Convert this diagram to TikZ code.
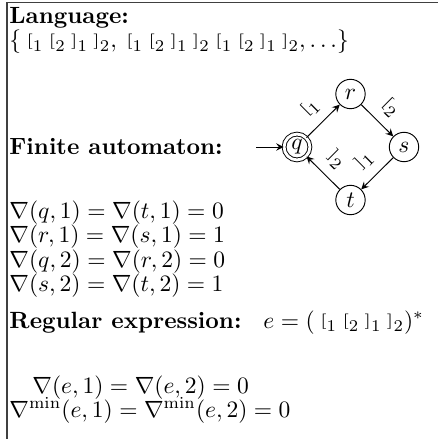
\documentclass[tikz,border=0pt]{standalone}
\usepackage{amsmath}
\usepackage{graphicx}

% flattened call/return brackets
\newcommand{\lb}[1]{\mathord{\raisebox{1pt}{\scalebox{1}[0.65]{$[$}}}_{#1}}
\newcommand{\rb}[1]{\mathord{\raisebox{1pt}{\scalebox{1}[0.65]{$]$}}}_{#1}}
\newcommand{\lsym}[1]{\mkern4mu\lb{#1}}
\newcommand{\rsym}[1]{\mkern4mu\rb{#1}}

\begin{document}
\begin{tikzpicture}[x=0.4255pt, y=-0.4255pt, >=stealth,
    txt/.style={anchor=base west, inner sep=0pt},
    stnode/.style={circle, draw, minimum size=12.5pt, inner sep=0pt},
    edgelab/.style={above=3.5pt, sloped, inner sep=0.5pt}]
  \useasboundingbox (0,0) rectangle (438,439);

  % --- Frame ---
  \draw[line width=0.8pt, black!75] (7,439) -- (7,2.5) -- (438,2.5);

  % --- Language ---
  \node[txt, font=\bfseries] (lang) at (9,24) {Language:};
  \node[txt] (words) at (9,48)
    {$\{\lsym1\lsym2\rsym1\rsym2,\lsym1\lsym2\rsym1\rsym2\lsym1\lsym2\rsym1\rsym2,\ldots\}$};

  % --- Finite automaton ---
  \node[txt, font=\bfseries] (fa) at (9,154) {Finite automaton:};

  \node[stnode, double, double distance=1.2pt, minimum size=11pt] (q) at (297,147) {$q$};
  \node[stnode] (r) at (350.5,94) {$r$};
  \node[stnode] (s) at (404,147) {$s$};
  \node[stnode] (t) at (350.5,200) {$t$};
  \coordinate (qin) at (256,147);

  \draw[->] (qin) -- (q);
  \draw[->] (q) -- node[edgelab] {$\lb1$} (r);
  \draw[->] (r) -- node[edgelab] {$\lb2$} (s);
  \draw[->] (s) -- node[edgelab] {$\rb1$} (t);
  \draw[->] (t) -- node[edgelab] {$\rb2$} (q);

  % --- Gradients of the automaton ---
  \node[txt] (g1) at (9,218) {$\nabla(q,1)=\nabla(t,1)=0$};
  \node[txt] (g2) at (9,242.5) {$\nabla(r,1)=\nabla(s,1)=1$};
  \node[txt] (g3) at (9,267) {$\nabla(q,2)=\nabla(r,2)=0$};
  \node[txt] (g4) at (9,291.5) {$\nabla(s,2)=\nabla(t,2)=1$};

  % --- Regular expression ---
  \node[txt, font=\bfseries] (re) at (9,328) {Regular expression:};
  \node[txt] (expr) at (263,328) {$e=(\lsym1\lsym2\rsym1\rsym2)^*$};

  \node[txt] (ge1) at (32,393) {$\nabla(e,1)=\nabla(e,2)=0$};
  \node[txt] (ge2) at (9,417.5) {$\nabla^{\min}(e,1)=\nabla^{\min}(e,2)=0$};
\end{tikzpicture}
\end{document}
